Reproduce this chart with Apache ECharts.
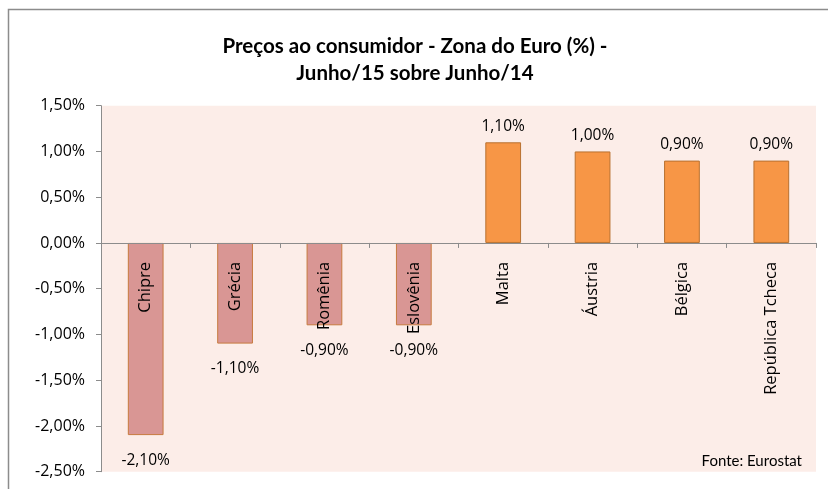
<!DOCTYPE html>
<html>
<head>
<meta charset="utf-8">
<script src="https://cdn.jsdelivr.net/npm/echarts@6/dist/echarts.min.js"></script>
<style>
	html, body { margin: 0; padding: 0; background: #fff; }
	#main { width: 828px; height: 489px; }
</style>
</head>
<body>
<div id="main"></div>
<script>
	// data
	var countries = ['Chipre', 'Grécia', 'Romênia', 'Eslovênia', 'Malta', 'Áustria', 'Bélgica', 'República Tcheca'];
	var values = [-2.1, -1.1, -0.9, -0.9, 1.1, 1.0, 0.9, 0.9];
	var yTicks = [-2.5, -2.0, -1.5, -1.0, -0.5, 0.0, 0.5, 1.0, 1.5];

	function pct(v) {
		return v.toFixed(2).replace('.', ',') + '%';
	}

	var barData = values.map(function (v) {
		var neg = v < 0;
		return {
			value: v,
			itemStyle: {
				color: neg ? '#D99694' : '#F79646',
				borderColor: neg ? '#C77A3E' : '#B8712F',
				borderWidth: 1
			},
			label: {
				position: neg ? 'bottom' : 'top',
				distance: neg ? 17 : 8
			}
		};
	});

	// grid box (px)
	var gTop = 105.7, gBottom = 17.3, H = 489;
	var yMin = yTicks[0], yMax = yTicks[yTicks.length - 1];
	var gH = H - gTop - gBottom;
	// move category axis up to the zero line (labels included)
	var zeroOffset = -gH * (0 - yMin) / (yMax - yMin);

	var myChart = echarts.init(document.getElementById('main'));
	var option = {
		backgroundColor: '#ffffff',
		animation: false,
		title: {
			text: 'Preços ao consumidor - Zona do Euro (%) -\nJunho/15 sobre Junho/14',
			left: 410,
			textAlign: 'center',
			top: 28,
			textStyle: {
				fontFamily: 'Lato',
				fontWeight: 'bold',
				fontSize: 20.5,
				lineHeight: 27,
				color: '#000'
			}
		},
		graphic: [{
			type: 'rect',
			shape: { x: 8.5, y: 9.5, width: 830, height: 500 },
			style: { fill: 'none', stroke: '#8C8C8C', lineWidth: 1.5 },
			silent: true
		}, {
			type: 'text',
			right: 26,
			top: 454,
			style: {
				text: 'Fonte: Eurostat',
				font: '15px Lato',
				fill: '#000'
			}
		}],
		grid: {
			left: 101,
			right: 12,
			top: gTop,
			bottom: gBottom,
			outerBoundsMode: 'none',
			containLabel: false,
			show: true,
			backgroundColor: '#FCEDE8',
			borderWidth: 0
		},
		xAxis: {
			type: 'category',
			data: countries,
			offset: zeroOffset,
			axisLine: { onZero: false, lineStyle: { color: '#8C8C8C', width: 1 } },
			axisTick: { show: true, length: 5, lineStyle: { color: '#8C8C8C' } },
			axisLabel: {
				interval: 0,
				rotate: 90,
				margin: 19,
				fontFamily: 'Open Sans',
				fontSize: 16.5,
				color: '#000'
			},
			z: 3
		},
		yAxis: {
			type: 'value',
			min: yMin,
			max: yMax,
			interval: 0.5,
			splitLine: { show: false },
			axisLine: { show: true, lineStyle: { color: '#8C8C8C', width: 1 } },
			axisTick: { show: true, length: 5, lineStyle: { color: '#8C8C8C' } },
			axisLabel: {
				margin: 16,
				fontFamily: 'Open Sans',
				fontSize: 16,
				color: '#000',
				formatter: function (v) { return pct(v); }
			}
		},
		series: [{
			type: 'bar',
			data: barData,
			barWidth: '40%',
			z: 2,
			label: {
				show: true,
				fontFamily: 'Open Sans',
				fontSize: 15.5,
				color: '#000',
				formatter: function (p) { return pct(p.value); }
			}
		}]
	};
	myChart.setOption(option);
</script>
</body>
</html>
